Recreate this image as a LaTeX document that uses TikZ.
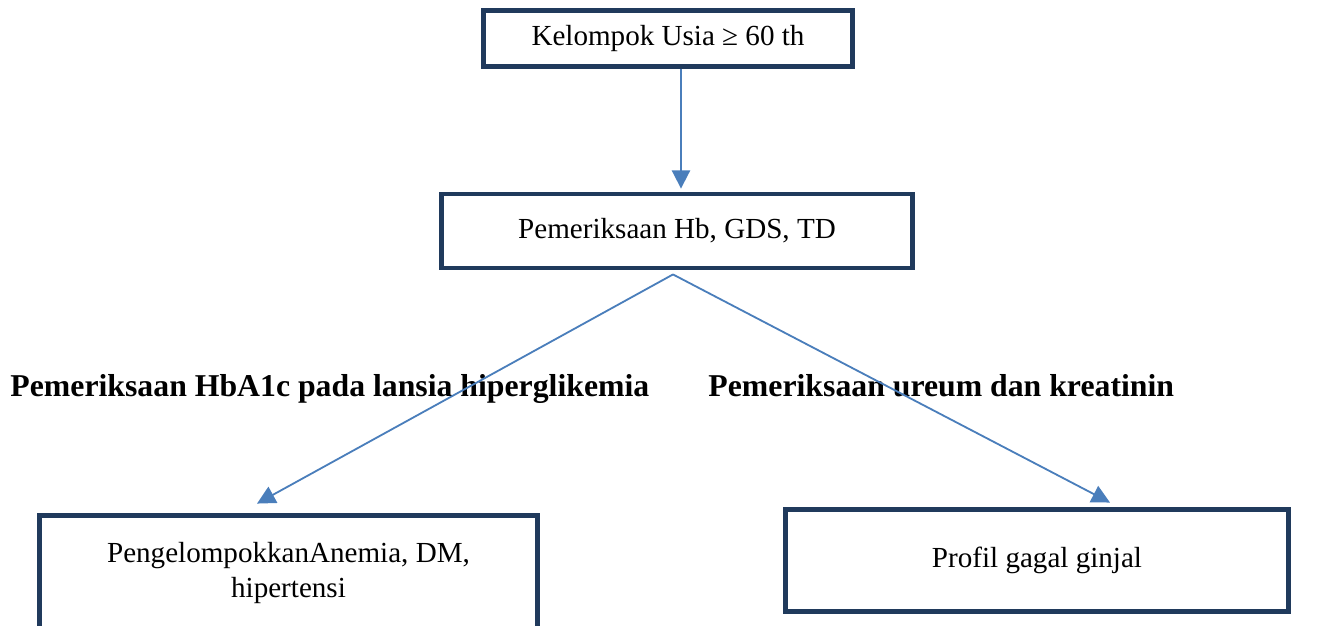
\documentclass[tikz,border=0pt]{standalone}
\usepackage{fontspec}
\setmainfont{Liberation Serif}
\usetikzlibrary{arrows.meta,calc}
\definecolor{kotak}{HTML}{203A5C}
\definecolor{garis}{HTML}{4A7EBB}
\tikzset{
  box/.style={draw=kotak, line width=2pt, inner sep=0pt, align=center, font=\fontsize{12}{14.5}\selectfont},
  panah/.style={draw=garis, line width=0.75pt, -{Triangle[length=7.5pt,width=7.5pt]}},
  judul/.style={anchor=base west, inner sep=0pt, font=\fontsize{13.1}{15}\selectfont\bfseries},
}
\begin{document}
\begin{tikzpicture}[x=0.0145cm, y=-0.0145cm]
\useasboundingbox (0,0) rectangle (1333,625);
% Kotak
\node[box, minimum width=5.35cm, minimum height=0.81cm] (usia) at (668,38.5) {Kelompok Usia ≥ 60 th};
\node[box, minimum width=6.83cm, minimum height=1.073cm] (hb) at (677,231) {Pemeriksaan Hb, GDS, TD};
\node[box, minimum width=7.22cm, minimum height=1.66cm] (kelompok) at (288.5,572.75) {PengelompokkanAnemia, DM,\\hipertensi};
\node[box, minimum width=7.30cm, minimum height=1.48cm] (ginjal) at (1037,560.5) {Profil gagal ginjal};
% Keterangan
\node[judul] (hba1c) at (10,396) {Pemeriksaan HbA1c pada lansia hiperglikemia};
\node[judul] (ureum) at (708,396) {Pemeriksaan ureum dan kreatinin};
% Panah
\draw[panah] ($(usia.south)+(13,0)$) -- ($(hb.north)+(4,-3)$);
\coordinate (cabang) at ($(hb.south)+(-4,4)$);
\draw[panah] (cabang) -- ($(kelompok.north)+(-31.5,-9.5)$);
\draw[panah] (cabang) -- ($(ginjal.north)+(73,-4.5)$);
\end{tikzpicture}
\end{document}
